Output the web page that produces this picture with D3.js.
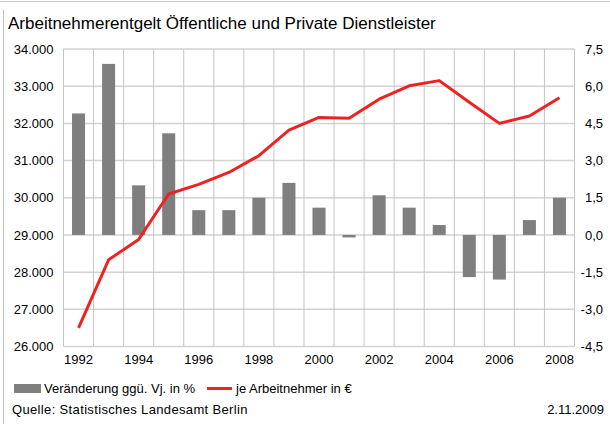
<!DOCTYPE html>
<html>
<head>
<meta charset="utf-8">
<script src="https://cdn.jsdelivr.net/npm/d3@7"></script>
<style>
  html, body { margin: 0; padding: 0; background: #fff; }
  svg { display: block; font-family: "Liberation Sans", Arial, sans-serif; }
</style>
</head>
<body>
<svg id="chart" width="610" height="424"></svg>
<script>
// Years on the category axis
const years = [1992, 1993, 1994, 1995, 1996, 1997, 1998, 1999, 2000,
               2001, 2002, 2003, 2004, 2005, 2006, 2007, 2008];
// Change against previous year, in percent (bars, right axis)
const changePct = [4.9, 6.9, 2.0, 4.1, 1.0, 1.0, 1.5, 2.1, 1.1,
                   -0.1, 1.6, 1.1, 0.4, -1.7, -1.8, 0.6, 1.5];
// Compensation per employee, in euro (line, left axis)
const perEmployee = [26500, 28330, 28880, 30100, 30360, 30680, 31130, 31820, 32160,
                     32140, 32650, 33010, 33150, 32570, 32000, 32200, 32690];
// Axis ticks
const leftTicks = [26000, 27000, 28000, 29000, 30000, 31000, 32000, 33000, 34000];
const rightTicks = [-4.5, -3.0, -1.5, 0.0, 1.5, 3.0, 4.5, 6.0, 7.5];
const yearLabels = [1992, 1994, 1996, 1998, 2000, 2002, 2004, 2006, 2008];

const de = d3.formatLocale({decimal: ",", thousands: ".", grouping: [3], currency: ["", " €"], minus: "-"});
const fmtThousands = de.format(",");
const fmtRight = de.format(".1f");

const svg = d3.select("#chart");
const plot = {left: 63.5, right: 574.5, top: 49, bottom: 346.5};

const x = d3.scaleBand()
  .domain(years)
  .range([plot.left, plot.right])
  .paddingInner(0.567)
  .paddingOuter(0.2835);
const yLeft = d3.scaleLinear().domain([26000, 34000]).range([plot.bottom, plot.top]);
const yRight = d3.scaleLinear().domain([-4.5, 7.5]).range([plot.bottom, plot.top]);

// Outer frame
svg.append("line").attr("x1", 0).attr("x2", 610).attr("y1", 1.5).attr("y2", 1.5)
  .attr("stroke", "#c8c8c8").attr("stroke-width", 1);
svg.append("line").attr("x1", 3.5).attr("x2", 3.5).attr("y1", 10).attr("y2", 424)
  .attr("stroke", "#bdbdbd").attr("stroke-width", 1);

// Title
svg.append("text").attr("x", 8).attr("y", 29)
  .attr("font-size", 17).attr("fill", "#000")
  .text("Arbeitnehmerentgelt Öffentliche und Private Dienstleister");

// Horizontal gridlines
svg.append("g").selectAll("line").data(leftTicks).join("line")
  .attr("x1", plot.left).attr("x2", plot.right)
  .attr("y1", d => yLeft(d)).attr("y2", d => yLeft(d))
  .attr("stroke", "#d2d2d2").attr("stroke-width", 1.5);

// Vertical gridlines at category boundaries
const step = x.step();
const bounds = d3.range(years.length + 1).map(i => plot.left + i * step);
svg.append("g").selectAll("line").data(bounds).join("line")
  .attr("x1", d => d).attr("x2", d => d)
  .attr("y1", plot.top).attr("y2", plot.bottom)
  .attr("stroke", "#c4c4c4").attr("stroke-width", 1);

// Bars
svg.append("g").selectAll("rect").data(changePct).join("rect")
  .attr("x", (d, i) => x(years[i]))
  .attr("width", x.bandwidth())
  .attr("y", d => yRight(Math.max(0, d)))
  .attr("height", d => Math.abs(yRight(d) - yRight(0)))
  .attr("fill", "#7f7f7f");

// Line
const line = d3.line()
  .x((d, i) => x(years[i]) + x.bandwidth() / 2)
  .y(d => yLeft(d));
svg.append("path").datum(perEmployee)
  .attr("d", line)
  .attr("fill", "none")
  .attr("stroke", "#ee2222")
  .attr("stroke-width", 3)
  .attr("stroke-linejoin", "round");

// Left axis
const axL = svg.append("g").attr("transform", `translate(${plot.left - 10},0)`)
  .call(d3.axisLeft(yLeft).tickValues(leftTicks).tickSize(0).tickPadding(0)
    .tickFormat(d => fmtThousands(d)));
axL.select(".domain").remove();
axL.selectAll("text").attr("font-size", 13).attr("fill", "#000")
  .attr("font-family", "Liberation Sans, Arial, sans-serif");

// Right axis
const axR = svg.append("g").attr("transform", `translate(603,0)`)
  .call(d3.axisLeft(yRight).tickValues(rightTicks).tickSize(0).tickPadding(0)
    .tickFormat(d => fmtRight(d)));
axR.select(".domain").remove();
axR.selectAll("text").attr("font-size", 13).attr("fill", "#000")
  .attr("font-family", "Liberation Sans, Arial, sans-serif");

// Bottom axis
const axB = svg.append("g").attr("transform", `translate(0,${plot.bottom + 8})`)
  .call(d3.axisBottom(x).tickValues(yearLabels).tickSize(0).tickPadding(0));
axB.select(".domain").remove();
axB.selectAll("text").attr("font-size", 13).attr("fill", "#000")
  .attr("font-family", "Liberation Sans, Arial, sans-serif");

// Legend
const leg = svg.append("g");
leg.append("rect").attr("x", 14).attr("y", 384).attr("width", 27).attr("height", 9).attr("fill", "#7f7f7f");
leg.append("text").attr("x", 44).attr("y", 393).attr("font-size", 13).text("Veränderung ggü. Vj. in %");
leg.append("line").attr("x1", 207).attr("x2", 232).attr("y1", 388.5).attr("y2", 388.5)
  .attr("stroke", "#ee2222").attr("stroke-width", 3);
leg.append("text").attr("x", 236).attr("y", 393).attr("font-size", 13).text("je Arbeitnehmer in €");

// Footer
svg.append("text").attr("x", 12).attr("y", 414).attr("font-size", 13)
  .attr("letter-spacing", 0.35)
  .text("Quelle: Statistisches Landesamt Berlin");
svg.append("text").attr("x", 604).attr("y", 414).attr("font-size", 13).attr("text-anchor", "end")
  .text("2.11.2009");
</script>
</body>
</html>
